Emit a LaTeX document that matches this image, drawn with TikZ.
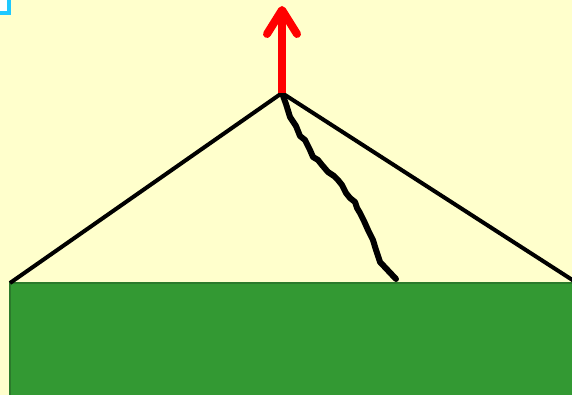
\documentclass[tikz,border=0pt]{standalone}
\usepackage{xcolor}
\usepackage{tikz}
\usetikzlibrary{arrows.meta}

\definecolor{paleyellow}{HTML}{FFFFCC}
\definecolor{grassgreen}{HTML}{339933}
\definecolor{grassedge}{HTML}{2B7A2B}
\definecolor{markcyan}{HTML}{1EC8FF}

\begin{document}
\begin{tikzpicture}[x=1pt, y=-1pt,
  ground/.style={fill=grassgreen, draw=grassedge, line width=2.5pt},
  rope/.style={draw=black, line width=4pt},
  crack/.style={draw=black, line width=6pt, line join=round, line cap=round},
  lift/.style={draw=red, line width=8pt,
               -{Straight Barb[length=24pt, width=30pt, round]}},
]
% canvas
\fill[paleyellow] (0,0) rectangle (572,395);
\useasboundingbox (0,0) rectangle (572,395);

% corner marker
\draw[markcyan, line width=4pt, fill=white] (-8,-8) rectangle (9,13);

% ground block
\draw[ground] (10,283) rectangle (590,410);

% points of the frame
\coordinate (apex) at (282,93);
\coordinate (left) at (10,283);
\coordinate (right) at (574,281);
\coordinate (top) at (282,6);
\coordinate (crackend) at (396,279);

% frame lines
\draw[rope] (left) -- (apex) -- (right);

% wiggly line
\draw[crack] (apex) -- (286,104) -- (290,117) -- (296,126) -- (300,136)
  -- (305,140) -- (310,150) -- (313,157) -- (318,160) -- (322,165)
  -- (328,172) -- (334,176) -- (338,180) -- (342,185) -- (346,193)
  -- (350,198) -- (355,202) -- (357,208) -- (360,213) -- (364,221)
  -- (368,230) -- (373,240) -- (376,250) -- (380,262) -- (crackend);

% pulling arrow
\draw[lift] (apex) -- (top);
\end{tikzpicture}
\end{document}
